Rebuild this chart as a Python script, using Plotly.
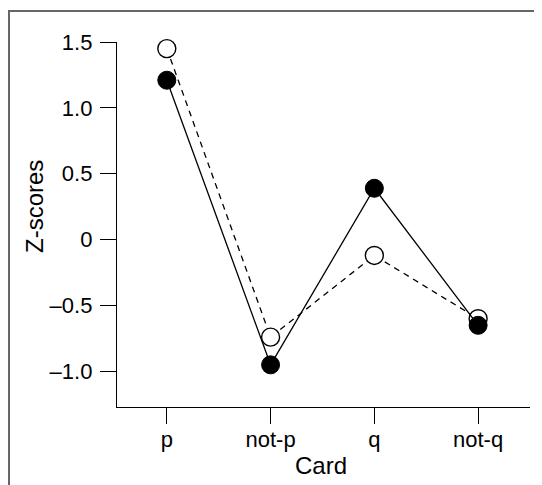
import plotly.graph_objects as go

cards = ["p", "not-p", "q", "not-q"]
solid_scores = [1.21, -0.95, 0.39, -0.65]
open_scores = [1.45, -0.74, -0.12, -0.60]
ytick_vals = [-1.0, -0.5, 0, 0.5, 1.0, 1.5]
ytick_text = ["–1.0", "–0.5", "0", "0.5", "1.0", "1.5"]

OFF = 8  # page body margin
W, H = 542 - OFF, 485 - OFF
ML, MT = 117 - OFF, 42 - OFF
MR = W - (530 - OFF)
MB = H - (407 - OFF)
PW, PH = W - ML - MR, H - MT - MB

def px(x_abs):
    return (x_abs - OFF - ML) / PW

def py(y_abs):
    return (H - MB - (y_abs - OFF)) / PH

xs = list(range(len(cards)))

fig = go.Figure()
fig.add_trace(go.Scatter(
    x=xs, y=open_scores, mode="lines+markers",
    line=dict(color="black", width=1.3, dash="6px,5px"),
    marker=dict(symbol="circle", size=18, color="white",
                line=dict(color="black", width=1.4)),
    showlegend=False, cliponaxis=False,
))
fig.add_trace(go.Scatter(
    x=xs, y=solid_scores, mode="lines+markers",
    line=dict(color="black", width=1.3),
    marker=dict(symbol="circle", size=18, color="black",
                line=dict(color="black", width=1)),
    showlegend=False, cliponaxis=False,
))

FAM = "Liberation Sans, Arial, sans-serif"
tick_font = dict(family=FAM, size=22, color="black")
title_font = dict(family=FAM, size=24, color="black")

fig.update_layout(
    width=W, height=H,
    margin=dict(l=ML, r=MR, t=MT, b=MB),
    paper_bgcolor="white", plot_bgcolor="white",
    font=tick_font,
    xaxis=dict(
        range=[-0.48, 3.5], tickvals=xs, ticktext=cards,
        showline=True, linecolor="black", linewidth=1.3,
        ticks="outside", ticklen=16, tickwidth=1.3, tickcolor="black",
        showgrid=False, zeroline=False, tickfont=tick_font,
        ticklabelstandoff=-4,
    ),
    yaxis=dict(
        range=[-1.27, 1.5], tickvals=ytick_vals, ticktext=ytick_text,
        showline=True, linecolor="black", linewidth=1.3,
        ticks="outside", ticklen=16, tickwidth=1.3, tickcolor="black",
        showgrid=False, zeroline=False, tickfont=tick_font,
        ticklabelstandoff=3,
    ),
    annotations=[
        dict(text="Z-scores", textangle=-90, xref="paper", yref="paper",
             x=px(34), y=py(207), showarrow=False, font=title_font,
             xanchor="center", yanchor="middle"),
        dict(text="Card", xref="paper", yref="paper",
             x=px(321), y=py(465), showarrow=False, font=title_font,
             xanchor="center", yanchor="middle"),
    ],
    shapes=[
        dict(type="line", xref="paper", yref="paper",
             x0=px(9), x1=px(9), y0=py(11), y1=py(520),
             line=dict(color="#666666", width=2)),
        dict(type="line", xref="paper", yref="paper",
             x0=px(8), x1=px(580), y0=py(11), y1=py(11),
             line=dict(color="#666666", width=2)),
    ],
)

fig.write_html("out.html")
